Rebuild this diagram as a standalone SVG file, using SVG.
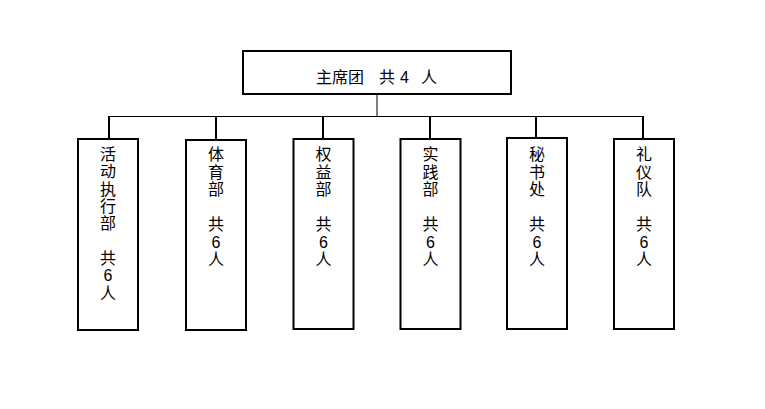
<svg xmlns="http://www.w3.org/2000/svg" width="765" height="409" viewBox="0 0 765 409">
<style>
.box{fill:#fff;stroke:#000;stroke-width:2}
.t{font-family:"Liberation Sans","Noto Sans CJK SC",sans-serif;font-size:16px;fill:#000;text-anchor:middle}
.thin{stroke:#000;stroke-width:1;fill:none}
.stub{stroke:#000;stroke-width:2;fill:none}
</style>
<rect width="765" height="409" fill="#fff"/>
<g id="connectors">
<line class="thin" x1="377" y1="94" x2="377" y2="116.5"/>
<line class="thin" x1="108.5" y1="116.5" x2="643.5" y2="116.5"/>
<line class="stub" x1="109" y1="116" x2="109" y2="139"/>
<line class="stub" x1="216" y1="116" x2="216" y2="140"/>
<line class="stub" x1="323" y1="116" x2="323" y2="139"/>
<line class="stub" x1="430" y1="116" x2="430" y2="139"/>
<line class="stub" x1="536" y1="116" x2="536" y2="138"/>
<line class="stub" x1="643" y1="116" x2="643" y2="139"/>
</g>
<g id="node-top">
<rect class="box" x="243" y="51" width="268" height="43"/>
<text class="t" style="text-anchor:start" y="83"><tspan x="316">主席团</tspan><tspan x="379">共</tspan><tspan x="400">4</tspan><tspan x="421">人</tspan></text>
</g>
<g id="node-1">
<rect class="box" x="78" y="139" width="60" height="191"/>
<text class="t"><tspan x="108" y="160">活</tspan><tspan x="108" y="177.3">动</tspan><tspan x="108" y="194.6">执</tspan><tspan x="108" y="212">行</tspan><tspan x="108" y="229.3">部</tspan><tspan x="108" y="264">共</tspan><tspan x="108" y="281.3">6</tspan><tspan x="108" y="298.6">人</tspan></text>
</g>
<g id="node-2">
<rect class="box" x="186" y="140" width="60" height="190"/>
<text class="t"><tspan x="216" y="160">体</tspan><tspan x="216" y="177.5">育</tspan><tspan x="216" y="195">部</tspan><tspan x="216" y="230">共</tspan><tspan x="216" y="247.5">6</tspan><tspan x="216" y="265">人</tspan></text>
</g>
<g id="node-3">
<rect class="box" x="293.5" y="139" width="60" height="190"/>
<text class="t"><tspan x="323.5" y="160">权</tspan><tspan x="323.5" y="177.5">益</tspan><tspan x="323.5" y="195">部</tspan><tspan x="323.5" y="230">共</tspan><tspan x="323.5" y="247.5">6</tspan><tspan x="323.5" y="265">人</tspan></text>
</g>
<g id="node-4">
<rect class="box" x="400.5" y="139" width="60" height="190"/>
<text class="t"><tspan x="430.5" y="160">实</tspan><tspan x="430.5" y="177.5">践</tspan><tspan x="430.5" y="195">部</tspan><tspan x="430.5" y="230">共</tspan><tspan x="430.5" y="247.5">6</tspan><tspan x="430.5" y="265">人</tspan></text>
</g>
<g id="node-5">
<rect class="box" x="507" y="138" width="60" height="191"/>
<text class="t"><tspan x="537" y="160">秘</tspan><tspan x="537" y="177.5">书</tspan><tspan x="537" y="195">处</tspan><tspan x="537" y="230">共</tspan><tspan x="537" y="247.5">6</tspan><tspan x="537" y="265">人</tspan></text>
</g>
<g id="node-6">
<rect class="box" x="614" y="139" width="60" height="190"/>
<text class="t"><tspan x="644" y="160">礼</tspan><tspan x="644" y="177.5">仪</tspan><tspan x="644" y="195">队</tspan><tspan x="644" y="230">共</tspan><tspan x="644" y="247.5">6</tspan><tspan x="644" y="265">人</tspan></text>
</g>
</svg>
